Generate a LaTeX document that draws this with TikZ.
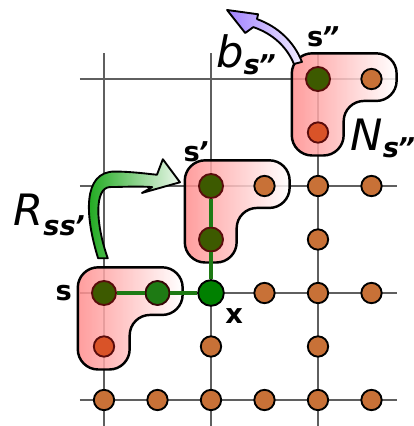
\documentclass[tikz,border=0pt]{standalone}
\usepackage{fontspec}
\setmainfont{DejaVu Sans}
\usetikzlibrary{arrows.meta,positioning}
\definecolor{rust}{RGB}{200,113,55}
\definecolor{brick}{RGB}{217,83,40}
\definecolor{moss}{RGB}{61,90,0}
\definecolor{sprout}{RGB}{30,122,20}
\definecolor{maroon}{RGB}{90,12,12}
\definecolor{blush}{RGB}{255,140,140}
\definecolor{leafy}{RGB}{20,165,20}
\definecolor{lilac}{RGB}{160,128,255}
\definecolor{ink}{RGB}{95,95,95}
\newcommand\lowsub[2][3.7pt]{\raisebox{-#1}{\fontsize{14.5}{16}\selectfont\bfseries\itshape #2}}
\newcommand\tck{\kern-0.06em{\itshape\symbol{"27}}\kern-0.06em}
\tikzset{
  site/.style={circle,draw=black,line width=1pt,fill=#1,minimum size=3.8mm,inner sep=0pt},
  site/.default=rust,
  core/.style={site=moss,draw=maroon,minimum size=4.5mm},
  link/.style={draw=sprout,line width=2.2pt},
  grid/.style={draw=ink,line width=0.8pt},
  tag/.style={font=\fontsize{14.5}{16}\selectfont\bfseries,inner sep=0pt},
  sym/.style={font=\fontsize{23}{26}\selectfont\itshape,inner sep=0pt,anchor=base west},
  % neighbourhood
  pics/blob/.style={code={
    \shade[draw=black,line width=1.3pt,left color=blush,right color=white,
      fill opacity=0.85,rounded corners=3.8mm]
      (-0.49,0.48) -- (1.47,0.48) -- (1.47,-0.41) -- (0.48,-0.41)
      -- (0.48,-1.43) -- (-0.49,-1.43) -- cycle;
  }},
}
\begin{document}
\begin{tikzpicture}
  \useasboundingbox (-1.944,-0.486) rectangle (5.794,7.477);
  % lattice
  \foreach \y in {0,2,4,6} \draw[grid] (-0.45,\y) -- (5.48,\y);
  \foreach \x in {0,2,4} \draw[grid] (\x,-0.49) -- (\x,6.49);
  \pic at (0,2) {blob};
  \pic at (2,4) {blob};
  \pic at (4,6) {blob};
  % sites
  \foreach \p [count=\k] in {(0,0),(1,0),(2,0),(3,0),(4,0),(5,0),(2,1),(4,1),
      (3,2),(4,2),(5,2),(4,3),(3,4),(4,4),(5,4),(5,6)}
    \node[site] (o\k) at \p {};
  \node[site=brick,draw=maroon] (r1) at (0,1) {};
  \node[site=brick,draw=maroon] (r2) at (4,5) {};
  \node[core] (s) at (0,2) {};
  \node[site=sprout,draw=maroon!60!black,minimum size=4.5mm] (sa) at (1,2) {};
  \node[site=green!50!black,minimum size=4.8mm] (x) at (2,2) {};
  \node[core] (sm) at (2,3) {};
  \node[core] (sp) at (2,4) {};
  \node[core] (spp) at (4,6) {};
  \draw[link] (s) -- (sa) -- (x) -- (sm) -- (sp);
  % labels
  \node[tag,left=3.5mm of s] (ls) {s};
  \node[tag,below right=1mm and 0.8mm of x] (lx) {x};
  \node[tag,anchor=base west] (lsp) at (1.48,4.45) {s\tck};
  \node[tag,anchor=base west] (lspp) at (3.79,6.60) {s\tck\tck};
  \node[sym] (lb) at (2.09,6.21) {b\lowsub{s\tck\tck}};
  \node[sym] (ln) at (4.60,4.67) {N\lowsub{s\tck\tck}};
  \node[sym] (lr) at (-1.70,3.27) {R\lowsub[5.3pt]{ss\tck}};
  % arrows
  \shade[draw=black,line width=1pt,left color=leafy,right color=leafy!8,line join=round]
    (-0.11,2.65) .. controls (-0.36,3.45) and (-0.40,4.27) .. (0.20,4.27)
    .. controls (0.50,4.27) and (0.80,4.23) .. (0.99,4.21)
    -- (1.10,4.50) -- (1.42,4.07) -- (0.71,3.87) -- (0.90,3.98)
    .. controls (0.60,4.00) and (0.30,3.98) .. (0.10,3.98)
    .. controls (-0.18,3.95) and (-0.16,3.30) .. (0.07,2.65) -- cycle;
  \shade[draw=black,line width=1pt,left color=lilac,right color=lilac!15,line join=round]
    (3.70,6.32) .. controls (3.55,6.70) and (3.25,6.98) .. (2.86,7.12)
    -- (2.88,7.21) -- (2.30,7.29) -- (2.64,6.86) -- (2.79,6.97)
    .. controls (3.15,6.85) and (3.42,6.60) .. (3.55,6.28) -- cycle;
\end{tikzpicture}
\end{document}
